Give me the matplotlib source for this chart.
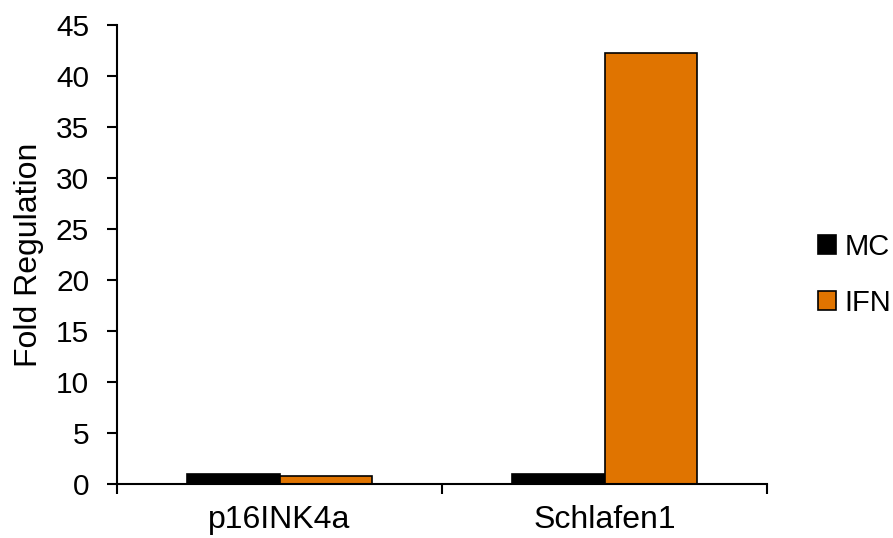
import matplotlib
matplotlib.use("Agg")
import matplotlib.pyplot as plt
import numpy as np
from matplotlib.patches import Patch

# data
genes = ["p16INK4a", "Schlafen1"]
mc_values = [1.0, 1.0]
ifn_values = [0.85, 42.3]
series_names = ["MC", "IFN"]
y_ticks = [0, 5, 10, 15, 20, 25, 30, 35, 40, 45]

plt.rcParams["font.family"] = ["Liberation Sans", "DejaVu Sans"]

fig = plt.figure(figsize=(8.93, 5.38), dpi=100)
ax = fig.add_axes([0.131, 0.100, 0.728, 0.8535])

x = np.arange(len(genes))
width = 1 / 3.5  # Excel-style gap width of 150%
ax.bar(x - width / 2, mc_values, width, color="black", edgecolor="black", linewidth=1.2)
ax.bar(x + width / 2, ifn_values, width, color="#E07400", edgecolor="black", linewidth=1.2)

ax.set_xlim(-0.5, len(genes) - 0.5)
ax.set_ylim(0, 45)
ax.set_yticks(y_ticks)
ax.tick_params(axis="y", labelsize=21.5, direction="out", length=7, width=1.5, pad=13)

# ticks on the category boundaries, labels centred under the groups
ax.set_xticks(np.arange(len(genes) + 1) - 0.5)
ax.set_xticklabels([])
ax.set_xticks(x, minor=True)
ax.set_xticklabels(genes, minor=True, fontsize=23)
ax.tick_params(axis="x", which="major", direction="out", length=7, width=1.5)
ax.tick_params(axis="x", which="minor", length=0, pad=15)

ax.set_ylabel("Fold Regulation", fontsize=23)
ax.yaxis.set_label_coords(-0.113, 0.5)

for side in ["top", "right"]:
    ax.spines[side].set_visible(False)
for side in ["left", "bottom"]:
    ax.spines[side].set_linewidth(1.5)

handles = [Patch(facecolor="black", edgecolor="black", linewidth=1.2),
           Patch(facecolor="#E07400", edgecolor="black", linewidth=1.2)]
fig.legend(handles, series_names, loc="center left", bbox_to_anchor=(0.916, 0.489),
           frameon=False, fontsize=21, handlelength=0.62, handleheight=0.62,
           handletextpad=0.28, labelspacing=0.95, borderpad=0, borderaxespad=0)

fig.savefig("out.png", dpi=100)
